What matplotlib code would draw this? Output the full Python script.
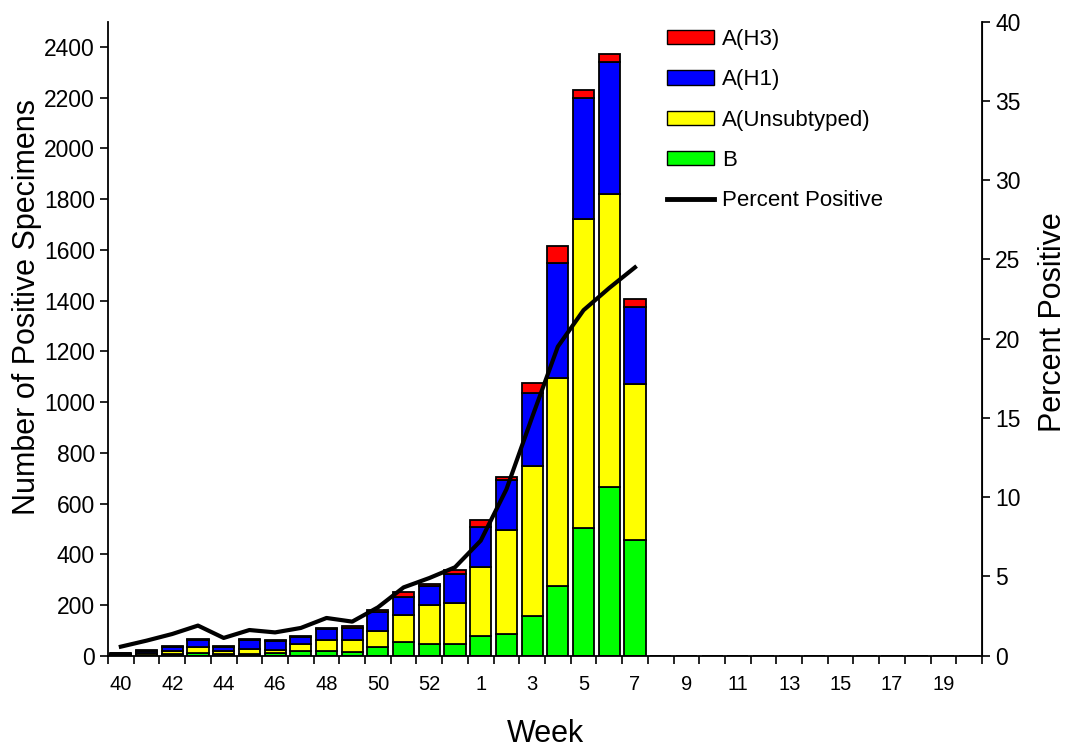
import numpy as np
import matplotlib
matplotlib.use('Agg')
import matplotlib.pyplot as plt
from matplotlib.patches import Patch
from matplotlib.lines import Line2D

plt.rcParams['font.family'] = ['Liberation Sans', 'DejaVu Sans']

# surveillance weeks 40-53 then 1-20
weeks = list(range(40, 54)) + list(range(1, 21))

# positive specimens by type (zeros after week 7 = no data yet)
flu_b = [2, 3, 5, 10, 5, 6, 9, 17, 17, 13, 33, 53, 46, 46,
         76, 84, 155, 274, 504, 665, 457] + [0] * 13
a_unsub = [3, 6, 12, 24, 13, 20, 12, 30, 46, 50, 63, 109, 155, 163,
           275, 410, 592, 822, 1217, 1154, 616] + [0] * 13
a_h1 = [5, 10, 18, 27, 17, 35, 38, 27, 42, 45, 75, 71, 75, 113,
        158, 197, 289, 453, 477, 522, 302] + [0] * 13
a_h3 = [2, 3, 5, 3, 5, 3, 3, 5, 4, 10, 10, 17, 7, 16,
        28, 13, 39, 66, 33, 32, 33] + [0] * 13

# percent positive, weeks 40 to 7
pct_pos = [0.57, 0.95, 1.37, 1.9, 1.12, 1.62, 1.47, 1.75, 2.38, 2.15, 3.05,
           4.31, 4.9, 5.58, 7.26, 10.5, 15.05, 19.5, 21.8, 23.2, 24.5]

fig = plt.figure(figsize=(10.69, 7.47), dpi=100)
ax = fig.add_axes([108 / 1069, 91.3 / 747, 874 / 1069, 634 / 747])

x = np.arange(len(weeks))
b = np.array(flu_b)
u = np.array(a_unsub)
h1 = np.array(a_h1)
h3 = np.array(a_h3)
w = 0.82
ax.bar(x, b, w, color='#00FF00', edgecolor='black', linewidth=1.3)
ax.bar(x, u, w, bottom=b, color='#FFFF00', edgecolor='black', linewidth=1.3)
ax.bar(x, h1, w, bottom=b + u, color='#0000FF', edgecolor='black', linewidth=1.3)
ax.bar(x, h3, w, bottom=b + u + h1, color='#FF0000', edgecolor='black', linewidth=1.3)

ax.set_xlim(-0.5, len(weeks) - 0.5)
ax.set_ylim(0, 2500)
ax.set_yticks(range(0, 2401, 200))
ax.tick_params(axis='y', labelsize=16.5, length=6, width=1.2, direction='out')

# labels every other week at bar centres, tick marks at boundaries
ax.set_xticks(x[::2])
ax.set_xticklabels([str(wk) for wk in weeks[::2]])
ax.tick_params(axis='x', which='major', length=0, labelsize=14.5, pad=14)
ax.set_xticks(np.arange(-0.5, len(weeks), 1), minor=True)
ax.tick_params(axis='x', which='minor', length=6, width=1.2, direction='out')

ax.spines['top'].set_visible(False)
for s in ['left', 'bottom']:
    ax.spines[s].set_linewidth(1.3)

ax2 = ax.twinx()
ax2.plot(x[:len(pct_pos)], pct_pos, color='black', linewidth=3)
ax2.set_ylim(0, 40)
ax2.set_yticks(range(0, 41, 5))
ax2.tick_params(axis='y', labelsize=16.5, length=6, width=1.2, direction='out')
ax2.spines['top'].set_visible(False)
ax2.spines['right'].set_linewidth(1.3)
ax2.spines['left'].set_visible(False)
ax2.spines['bottom'].set_visible(False)

fig.text(27 / 1069, 1 - 307 / 747, 'Number of Positive Specimens', rotation=90,
         ha='center', va='center', fontsize=22)
fig.text(1053 / 1069, 1 - 322 / 747, 'Percent Positive', rotation=90,
         ha='center', va='center', fontsize=22)
fig.text(545 / 1069, 1 - 734 / 747, 'Week', ha='center', va='center', fontsize=22)

handles = [Patch(facecolor='#FF0000', edgecolor='black'),
           Patch(facecolor='#0000FF', edgecolor='black'),
           Patch(facecolor='#FFFF00', edgecolor='black'),
           Patch(facecolor='#00FF00', edgecolor='black'),
           Line2D([0], [0], color='black', linewidth=3.5)]
labels = ['A(H3)', 'A(H1)', 'A(Unsubtyped)', 'B', 'Percent Positive']
fig.legend(handles, labels, loc='upper left', bbox_to_anchor=(667 / 1069, 1 - 29 / 747),
           frameon=False, fontsize=16, handlelength=2.1, handleheight=0.63,
           handletextpad=0.36, labelspacing=0.87, borderpad=0, borderaxespad=0)

fig.savefig('out.png', dpi=100)
